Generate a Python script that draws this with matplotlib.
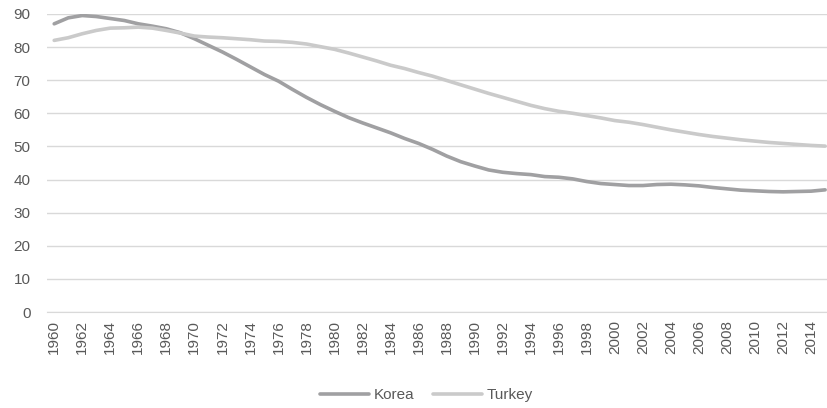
import matplotlib.pyplot as plt
import numpy as np

# Werte
years = list(range(1960, 2016))
korea = [87.0, 88.8, 89.5, 89.2, 88.6, 88.0, 87.0, 86.3, 85.5, 84.3,
         82.5, 80.5, 78.5, 76.3, 74.0, 71.7, 69.7, 67.2, 64.8, 62.6,
         60.6, 58.7, 57.1, 55.6, 54.1, 52.4, 50.9, 49.1, 47.1, 45.4,
         44.1, 42.9, 42.2, 41.8, 41.5, 40.9, 40.7, 40.2, 39.4, 38.8,
         38.5, 38.2, 38.2, 38.5, 38.6, 38.4, 38.1, 37.6, 37.2, 36.8,
         36.6, 36.4, 36.3, 36.4, 36.5, 36.9]
turkey = [82.0, 82.8, 84.0, 85.0, 85.7, 85.8, 86.0, 85.7, 85.0, 84.2,
          83.3, 83.0, 82.8, 82.5, 82.2, 81.8, 81.7, 81.4, 80.9, 80.1,
          79.3, 78.2, 77.0, 75.8, 74.5, 73.5, 72.3, 71.2, 69.9, 68.6,
          67.3, 66.0, 64.8, 63.6, 62.4, 61.4, 60.6, 60.0, 59.3, 58.6,
          57.8, 57.3, 56.6, 55.8, 55.0, 54.3, 53.6, 53.0, 52.5, 52.0,
          51.6, 51.2, 50.9, 50.6, 50.3, 50.1]
series_names = ["Korea", "Turkey"]
series_colors = ["#a0a0a2", "#cacaca"]

plt.rcParams['font.family'] = ['Liberation Sans', 'DejaVu Sans']

fig = plt.figure(figsize=(8.28, 4.08), dpi=100)
ax = fig.add_axes([0.057, 0.235, 0.948, 0.731])

for vals, name, col in zip([korea, turkey], series_names, series_colors):
    ax.plot(years, vals, color=col, linewidth=2.6, label=name,
            solid_capstyle="round")

ax.set_ylim(0, 90)
ax.set_yticks(np.arange(0, 91, 10))
ax.set_xlim(1959.5, 2015.5)
ax.set_xticks(years[::2])
ax.set_xticklabels([str(y) for y in years[::2]], rotation=90)
ax.grid(axis="y", color="#d9d9d9", linewidth=1)
ax.set_axisbelow(True)
for s in ax.spines.values():
    s.set_visible(False)
ax.spines["bottom"].set_visible(True)
ax.spines["bottom"].set_color("#d9d9d9")
ax.tick_params(axis="both", length=0, colors="#595959", labelsize=11)
ax.tick_params(axis="y", pad=12)
ax.tick_params(axis="x", pad=6)

fig.legend(loc="center", bbox_to_anchor=(0.515, 0.032), ncol=2, frameon=False,
           fontsize=11, handlelength=3.2, columnspacing=1.2, handletextpad=0.3,
           labelcolor="#595959")

fig.savefig("out.png", dpi=100)
